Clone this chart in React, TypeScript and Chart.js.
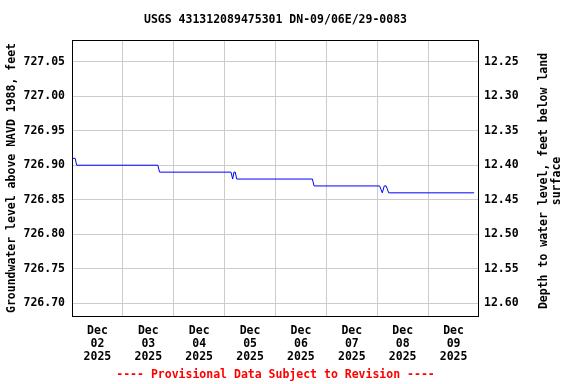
import React, { useEffect, useRef } from "react";
import { Chart, registerables } from "chart.js";

Chart.register(...registerables);

// Hours since Dec 02 2025 00:00
const HOURS = [0, 1.5, 2.2, 40.5, 41.3, 75.0, 75.8, 76.4, 77.0, 77.7, 113.4, 114.2, 145.1, 146.4, 147.3, 148.2, 149.4, 189.7];
const LEVELS = [726.91, 726.91, 726.9, 726.9, 726.89, 726.89, 726.88, 726.89, 726.89, 726.88, 726.88, 726.87, 726.87, 726.86, 726.87, 726.87, 726.86, 726.86];

const DAY_LABELS = ["02", "03", "04", "05", "06", "07", "08", "09"];
const MONTH_LABEL = "Dec";
const YEAR_LABEL = "2025";

const LEFT_TICKS = [726.7, 726.75, 726.8, 726.85, 726.9, 726.95, 727.0, 727.05];
const RIGHT_TICKS = [12.25, 12.3, 12.35, 12.4, 12.45, 12.5, 12.55, 12.6];
const LAND_SURFACE = 739.3;
const LEFT_MIN = 726.6816;
const LEFT_MAX = 727.0814;

const TITLE = "USGS 431312089475301 DN-09/06E/29-0083";
const FOOTER = "---- Provisional Data Subject to Revision ----";
const LEFT_TITLE = "Groundwater level above NAVD 1988, feet";
const RIGHT_TITLE = ["Depth to water level, feet below land", "surface"];

const FONT = "'DejaVu Sans Mono', monospace";
const font = { family: FONT, size: 11.5, weight: "bold" as const, lineHeight: "14px" };

export default function App() {
  const ref = useRef<HTMLCanvasElement | null>(null);

  useEffect(() => {
    document.body.style.margin = "0";
    const canvas = ref.current;
    if (!canvas) return;

    const framePlugin = {
      id: "frame",
      afterDraw(chart: any) {
        const { ctx, chartArea } = chart;
        ctx.save();
        ctx.strokeStyle = "#000";
        ctx.lineWidth = 1;
        ctx.strokeRect(
          Math.round(chartArea.left) + 0.5,
          Math.round(chartArea.top) + 0.5,
          Math.round(chartArea.right - chartArea.left) - 1,
          Math.round(chartArea.bottom - chartArea.top)
        );
        const cx = (chartArea.left + chartArea.right) / 2;
        ctx.font = `bold 11.5px ${FONT}`;
        ctx.textAlign = "center";
        ctx.textBaseline = "middle";
        // title
        ctx.fillStyle = "#000";
        ctx.fillText(TITLE, cx, 20);
        // footer
        ctx.fillStyle = "#ff0000";
        ctx.fillText(FOOTER, cx, 375);
        // right axis title
        ctx.fillStyle = "#000";
        ctx.translate(544, 181);
        ctx.rotate(-Math.PI / 2);
        ctx.fillText(RIGHT_TITLE[0], 0, 0);
        ctx.fillText(RIGHT_TITLE[1], 0, 13);
        ctx.restore();
      },
    };

    const chart = new Chart(canvas, {
      type: "line",
      data: {
        datasets: [
          {
            data: HOURS.map((h, i) => ({ x: h, y: LEVELS[i] })),
            borderColor: "#0000ff",
            borderWidth: 1,
            pointRadius: 0,
            tension: 0,
            fill: false,
            yAxisID: "y",
          },
        ],
      },
      options: {
        animation: false,
        responsive: false,
        maintainAspectRatio: false,
        layout: { padding: { top: 40, bottom: 20, left: 0, right: 0 } },
        plugins: {
          legend: { display: false },
          tooltip: { enabled: false },
          title: { display: false },
          subtitle: { display: false },
        },
        scales: {
          x: {
            type: "linear",
            position: "bottom",
            min: 0,
            max: 192,
            afterBuildTicks: (scale: any) => {
              const t: any[] = [];
              for (let i = 0; i <= DAY_LABELS.length * 2; i++) t.push({ value: i * 12 });
              scale.ticks = t;
            },
            afterFit: (scale: any) => {
              scale.height = 48;
            },
            grid: {
              drawTicks: false,
              color: (ctx: any) => {
                const v = ctx.tick ? ctx.tick.value : 0;
                return v % 24 === 0 && v > 0 && v < 192 ? "#cccccc" : "rgba(0,0,0,0)";
              },
              lineWidth: 1,
            },
            border: { display: false },
            ticks: {
              autoSkip: false,
              maxRotation: 0,
              padding: 9,
              color: "#000",
              font: { ...font, lineHeight: "13px" },
              callback: (v: any) => {
                const n = Number(v);
                if (n % 24 !== 12) return "";
                const d = DAY_LABELS[Math.floor(n / 24)];
                return [MONTH_LABEL, d, YEAR_LABEL];
              },
            },
          },
          y: {
            type: "linear",
            position: "left",
            min: LEFT_MIN,
            max: LEFT_MAX,
            afterBuildTicks: (scale: any) => {
              scale.ticks = LEFT_TICKS.map((v) => ({ value: v }));
            },
            afterFit: (scale: any) => {
              scale.width = 72;
            },
            grid: { drawTicks: false, color: "#cccccc", lineWidth: 1 },
            border: { display: false },
            title: {
              display: true,
              text: LEFT_TITLE,
              color: "#000",
              font,
              padding: { top: 5, bottom: 0 },
            },
            ticks: {
              padding: 7,
              color: "#000",
              font,
              callback: (v: any) => Number(v).toFixed(2),
            },
          },
          y2: {
            type: "linear",
            position: "right",
            reverse: true,
            min: LAND_SURFACE - LEFT_MAX,
            max: LAND_SURFACE - LEFT_MIN,
            afterBuildTicks: (scale: any) => {
              scale.ticks = RIGHT_TICKS.map((v) => ({ value: v }));
            },
            afterFit: (scale: any) => {
              scale.width = 97;
            },
            grid: { drawTicks: false, drawOnChartArea: false },
            border: { display: false },
            ticks: {
              padding: 5,
              color: "#000",
              font,
              callback: (v: any) => Number(v).toFixed(2),
            },
          },
        },
      },
      plugins: [framePlugin],
    } as any);

    return () => chart.destroy();
  }, []);

  return (
    <div style={{ position: "absolute", left: 0, top: 0, width: 576, height: 384 }}>
      <canvas ref={ref} width={576} height={384} style={{ width: 576, height: 384, display: "block" }} />
    </div>
  );
}
